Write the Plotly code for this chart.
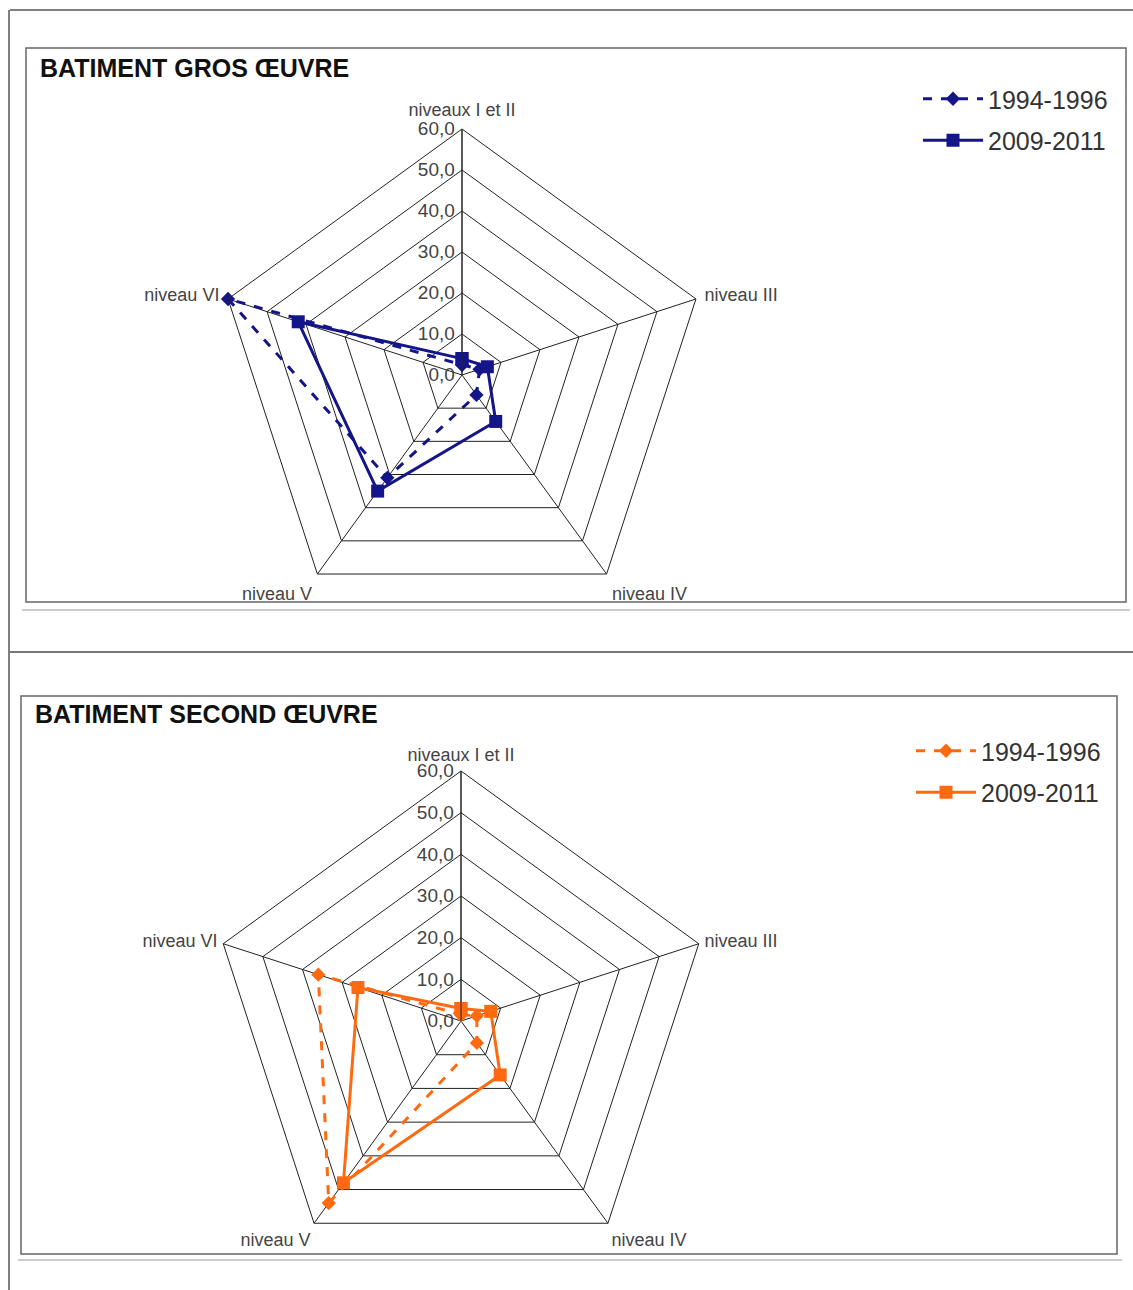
import plotly.graph_objects as go

W, H = 1133, 1290

categories = ["niveaux I et II", "niveau III", "niveau IV", "niveau V", "niveau VI"]
series_names = ["1994-1996", "2009-2011"]
gros_1994 = [2.5, 4.5, 6.0, 31.0, 60.0]
gros_2009 = [4.0, 6.5, 14.0, 35.0, 42.0]
second_1994 = [1.5, 4.0, 6.5, 54.0, 36.0]
second_2009 = [3.0, 7.5, 16.0, 48.0, 26.0]
radial_ticks = [0, 10, 20, 30, 40, 50, 60]
radial_ticktext = ["0,0", "10,0", "20,0", "30,0", "40,0", "50,0", "60,0"]
titles = ["BATIMENT GROS ŒUVRE", "BATIMENT SECOND ŒUVRE"]

BLUE = "#15158a"
ORANGE = "#ff6a10"
CAT_FONT = dict(family="Liberation Sans Narrow, Liberation Sans, Arial", size=18, color="#444444")
TICK_FONT = dict(family="Liberation Sans Narrow, Liberation Sans, Arial", size=19, color="#444444")


def closed(v):
    return list(v) + [v[0]]


fig = go.Figure()

charts = [
    ("polar", "legend", gros_1994, gros_2009, BLUE),
    ("polar2", "legend2", second_1994, second_2009, ORANGE),
]
for sub, leg, v94, v09, col in charts:
    fig.add_trace(go.Scatterpolar(
        r=closed(v94), theta=closed(categories), subplot=sub, legend=leg,
        name=series_names[0], legendgroup=sub + "a", mode="lines+markers",
        line=dict(color=col, width=3, dash="dash"),
        marker=dict(symbol="diamond", size=11, color=col),
    ))
    fig.add_trace(go.Scatterpolar(
        r=closed(v09), theta=closed(categories), subplot=sub, legend=leg,
        name=series_names[1], legendgroup=sub + "b", mode="lines+markers",
        line=dict(color=col, width=3),
        marker=dict(symbol="square", size=13, color=col),
    ))


def polar_cfg(cx, cy, rad, tlen):
    return dict(
        domain=dict(x=[(cx - rad) / W, (cx + rad) / W],
                    y=[(H - cy - rad) / H, (H - cy + rad) / H]),
        bgcolor="rgba(0,0,0,0)",
        gridshape="linear",
        angularaxis=dict(rotation=90, direction="clockwise", linecolor="#222222",
                         linewidth=1, gridcolor="#222222", gridwidth=1,
                         ticks="outside", ticklen=tlen, tickcolor="rgba(0,0,0,0)",
                         tickfont=CAT_FONT),
        radialaxis=dict(range=[0, 60], tickvals=radial_ticks, ticktext=radial_ticktext,
                        angle=90, tickangle=90, side="counterclockwise",
                        showline=True, linecolor="#222222", linewidth=1,
                        gridcolor="#222222", gridwidth=1, ticks="",
                        tickfont=TICK_FONT),
    )


leg_common = dict(font=dict(family="Liberation Sans, Arial", size=25, color="#333333"),
                  bgcolor="rgba(0,0,0,0)", xanchor="left", yanchor="top",
                  tracegroupgap=6, itemwidth=60)

shapes = []
def line(x0, y0, x1, y1, color, width):
    shapes.append(dict(type="line", xref="paper", yref="paper",
                       x0=x0 / W, x1=x1 / W, y0=1 - y0 / H, y1=1 - y1 / H,
                       line=dict(color=color, width=width)))

def rect(x0, y0, x1, y1, color, width):
    shapes.append(dict(type="rect", xref="paper", yref="paper",
                       x0=x0 / W, x1=x1 / W, y0=1 - y0 / H, y1=1 - y1 / H,
                       line=dict(color=color, width=width)))

# page frames
line(10, 10, W, 10, "#555555", 1.5)
line(9, 10, 9, H, "#555555", 1.5)
line(10, 652, W, 652, "#777777", 2)
# chart boxes with light shadows
rect(26, 48, 1126, 602, "#666666", 1.5)
line(22, 610, 1130, 610, "#cccccc", 2)
rect(21, 696, 1117, 1254, "#666666", 1.5)
line(18, 1260, 1122, 1260, "#cccccc", 2)

annotations = [
    dict(text="<b>%s</b>" % titles[0], x=38 / W, y=1 - 68 / H, xref="paper", yref="paper",
         xanchor="left", yanchor="middle", showarrow=False,
         font=dict(family="Liberation Sans, Arial", size=25, color="#111111")),
    dict(text="<b>%s</b>" % titles[1], x=33 / W, y=1 - 714 / H, xref="paper", yref="paper",
         xanchor="left", yanchor="middle", showarrow=False,
         font=dict(family="Liberation Sans, Arial", size=25, color="#111111")),
]

fig.update_layout(
    width=W, height=H,
    margin=dict(l=0, r=0, t=0, b=0),
    paper_bgcolor="white", plot_bgcolor="white",
    polar=polar_cfg(462, 375, 246, 5),
    polar2=polar_cfg(461, 1021, 250, 2),
    legend=dict(x=918 / W, y=1 - 76 / H, **leg_common),
    legend2=dict(x=911 / W, y=1 - 728 / H, **leg_common),
    shapes=shapes,
    annotations=annotations,
    showlegend=True,
)

fig.write_html("out.html")
